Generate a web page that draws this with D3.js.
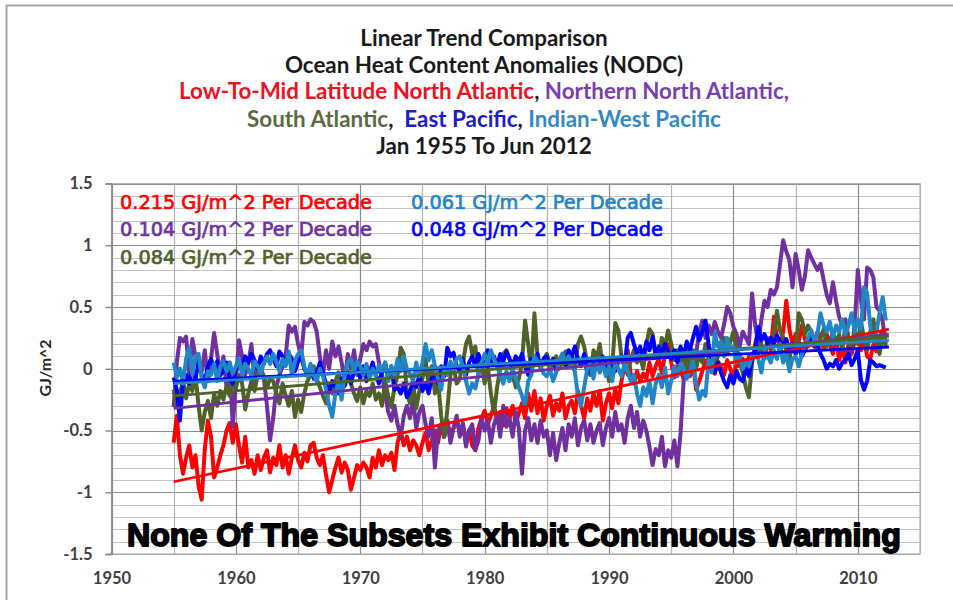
<!DOCTYPE html>
<html>
<head>
<meta charset="utf-8">
<script src="https://cdn.jsdelivr.net/npm/d3@7/dist/d3.min.js"></script>
<style>
  body { margin: 0; background: #ffffff; }
  svg { display: block; }
  text { white-space: pre; }
</style>
</head>
<body>
<svg id="chart" width="953" height="600"></svg>
<script>
// Quarterly ocean heat content anomalies (GJ/m^2), Jan 1955 - Jun 2012
const startYear = 1955;
const quarterStep = 0.25;

const lowMidNorthAtlantic = [
  -0.60,-0.38,-0.70,-0.85, -0.72,-0.62,-0.80,-0.70, -0.95,-1.06,-0.65,-0.42, -0.55,-0.88,-0.80,-0.70,
  -0.62,-0.50,-0.44,-0.60, -0.45,-0.62,-0.76,-0.55, -0.80,-0.74,-0.85,-0.70, -0.82,-0.72,-0.66,-0.84,
  -0.72,-0.78,-0.62,-0.80, -0.70,-0.85,-0.72,-0.62, -0.74,-0.80,-0.68,-0.75, -0.62,-0.60,-0.72,-0.78,
  -0.70,-0.86,-1.00,-0.90, -0.80,-0.72,-0.84,-0.76, -0.82,-0.98,-0.88,-0.78, -0.82,-0.76,-0.80,-0.88,
  -0.72,-0.80,-0.66,-0.78, -0.70,-0.74,-0.68,-0.82, -0.60,-0.50,-0.62,-0.55, -0.66,-0.58,-0.62,-0.70,
  -0.60,-0.52,-0.66,-0.58, -0.50,-0.60,-0.45,-0.55, -0.42,-0.55,-0.48,-0.40, -0.52,-0.45,-0.60,-0.50,
  -0.62,-0.66,-0.48,-0.40, -0.34,-0.45,-0.38,-0.30, -0.42,-0.35,-0.46,-0.32, -0.40,-0.30,-0.44,-0.36,
  -0.28,-0.40,-0.20,-0.34, -0.18,-0.36,-0.24,-0.42, -0.30,-0.22,-0.38,-0.28, -0.34,-0.20,-0.40,-0.30,
  -0.26,-0.36,-0.18,-0.30, -0.40,-0.24,-0.34,-0.20, -0.30,-0.18,-0.42,-0.28, -0.20,-0.32,-0.16,-0.28,
  -0.10, 0.02, 0.15,-0.05, -0.12,-0.02,-0.10,-0.04, -0.08, 0.05,-0.06, 0.02,  0.08,-0.04, 0.12, 0.20,
   0.05,-0.07, 0.02,-0.02, -0.08, 0.00,-0.06, 0.04, -0.17,-0.10,-0.02, 0.06,  0.08, 0.00,-0.04, 0.06,
   0.02,-0.05, 0.07, 0.00, -0.07, 0.04, 0.02, 0.08,  0.00, 0.10, 0.06, 0.20,  0.31, 0.18, 0.10, 0.22,
   0.15, 0.42, 0.25, 0.18,  0.30, 0.55, 0.32, 0.20,  0.28, 0.22, 0.35, 0.24,  0.18, 0.28, 0.20, 0.30,
   0.24, 0.16, 0.28, 0.20,  0.12, 0.25, 0.07, 0.18,  0.05, 0.20, 0.12, 0.22,  0.28, 0.15, 0.24, 0.10,
   0.08, 0.20, 0.14, 0.26,  0.31, 0.28
];

const northernNorthAtlantic = [
  -0.31, 0.05, 0.25, 0.22,  0.26,-0.05, 0.24, 0.10,  0.00,-0.02, 0.15,-0.10,  0.08, 0.29, 0.12,-0.05,
   0.10,-0.15, 0.05,-0.47, -0.10, 0.23, 0.10,-0.05,  0.05, 0.20,-0.10, 0.02, -0.05,-0.08,-0.30,-0.58,
  -0.40,-0.15,-0.05, 0.02,  0.10, 0.35, 0.30, 0.34,  0.20, 0.10, 0.38, 0.35,  0.40, 0.38, 0.30, 0.10,
  -0.05, 0.15, 0.00, 0.22,  0.10, 0.18, 0.05,-0.10,  0.12, 0.00, 0.15,-0.05,  0.08, 0.20, 0.15, 0.22,
   0.18, 0.20, 0.05,-0.05, -0.20,-0.35,-0.42,-0.30, -0.45,-0.55,-0.38,-0.30, -0.40,-0.25,-0.48,-0.35,
  -0.30,-0.45,-0.55,-0.40, -0.80,-0.50,-0.45,-0.55, -0.42,-0.60,-0.48,-0.38, -0.55,-0.44,-0.63,-0.50,
  -0.45,-0.66,-0.58,-0.40, -0.50,-0.42,-0.60,-0.45, -0.38,-0.55,-0.30,-0.47, -0.40,-0.55,-0.35,-0.48,
  -0.85,-0.50,-0.40,-0.58, -0.45,-0.60,-0.42,-0.55, -0.50,-0.70,-0.52,-0.74, -0.60,-0.48,-0.66,-0.45,
  -0.55,-0.40,-0.62,-0.48, -0.42,-0.58,-0.45,-0.60, -0.50,-0.44,-0.62,-0.48, -0.40,-0.55,-0.35,-0.50,
  -0.45,-0.60,-0.40,-0.30, -0.48,-0.35,-0.55,-0.42, -0.50,-0.63,-0.78,-0.65, -0.70,-0.55,-0.79,-0.66,
  -0.72,-0.58,-0.79,-0.52, -0.09, 0.10, 0.17, 0.07,  0.12, 0.30, 0.39, 0.25,  0.35, 0.28, 0.38, 0.30,
   0.25, 0.36, 0.50, 0.45,  0.34, 0.28, 0.18, 0.30,  0.25, 0.20, 0.61, 0.35,  0.20, 0.40, 0.55, 0.50,
   0.64, 0.60, 0.66, 0.85,  1.04, 0.95, 0.88, 0.66,  0.93, 0.80, 0.64, 0.75,  0.96, 0.90, 0.85, 0.80,
   0.85, 0.72, 0.60, 0.53,  0.70, 0.55, 0.42, 0.35,  0.40, 0.25, 0.13, 0.35,  0.80, 0.56, 0.40, 0.82,
   0.80, 0.74, 0.50, 0.47,  0.38, 0.20
];

const southAtlantic = [
  -0.17,-0.31,-0.20,-0.10, -0.24,-0.12,-0.18,-0.05, -0.30,-0.50,-0.35,-0.26, -0.40,-0.20,-0.30,-0.18,
  -0.25,-0.14,-0.22,-0.10, -0.16,-0.05,-0.12,-0.33, -0.20,-0.10,-0.18,-0.05,  0.00,-0.06,-0.15,-0.08,
  -0.10,-0.20,-0.28,-0.12, -0.22,-0.30,-0.18,-0.39, -0.25,-0.35,-0.20,-0.10, -0.05, 0.02,-0.08,-0.15,
  -0.22,-0.28,-0.15,-0.20, -0.10,-0.03,-0.12,-0.08, -0.02,-0.12,-0.20,-0.26, -0.15,-0.28,-0.18,-0.22,
  -0.12,-0.25,-0.20,-0.30, -0.10,-0.22,-0.31,-0.15, -0.05, 0.17, 0.12,-0.20, -0.28,-0.12,-0.32,-0.18,
  -0.08, 0.08,-0.15, 0.02, -0.20,-0.10,-0.38,-0.55, -0.33,-0.05, 0.02,-0.12, -0.08, 0.05, 0.20, 0.26,
   0.12, 0.18,-0.05, 0.05, -0.12, 0.02,-0.20,-0.36, -0.15, 0.00, 0.12, 0.15,  0.08,-0.05,-0.15,-0.08,
   0.05, 0.39, 0.20,-0.02,  0.45, 0.10, 0.02, 0.08,  0.12,-0.02, 0.05, 0.10,  0.00, 0.06, 0.14, 0.02,
   0.10, 0.00, 0.20, 0.26,  0.18, 0.05,-0.05, 0.15,  0.08, 0.20, 0.00, 0.05, -0.10, 0.02, 0.37, 0.31,
   0.10, 0.02,-0.05, 0.08,  0.15, 0.05, 0.10, 0.00,  0.20, 0.32, 0.28, 0.12,  0.10, 0.25, 0.18, 0.31,
   0.20, 0.07, 0.15, 0.05,  0.10,-0.02, 0.08, 0.15,  0.00, 0.12, 0.05, 0.20,  0.08, 0.15, 0.02, 0.10,
   0.18, 0.25, 0.12, 0.22,  0.30, 0.15, 0.08,-0.03, -0.15,-0.23, 0.05, 0.15,  0.12, 0.20, 0.08, 0.25,
   0.18, 0.28, 0.47, 0.31,  0.25, 0.15, 0.08, 0.20,  0.12, 0.45, 0.40, 0.28,  0.35, 0.30, 0.20, 0.15,
   0.25, 0.32, 0.18, 0.22,  0.30, 0.20, 0.28, 0.15,  0.35, 0.25, 0.18, 0.30,  0.20, 0.38, 0.25, 0.15,
   0.30, 0.40, 0.22, 0.12,  0.28, 0.18
];

const eastPacific = [
  -0.07,-0.17,-0.42,-0.10, -0.05,-0.12, 0.00,-0.08,  0.05,-0.05,-0.10, 0.02,  0.08, 0.00, 0.06,-0.05,
  -0.02, 0.05,-0.08,-0.12,  0.00, 0.08, 0.02, 0.10,  0.05, 0.12, 0.07, 0.00,  0.10, 0.04, 0.12, 0.15,
   0.08, 0.02, 0.14, 0.10,  0.05, 0.12, 0.08,-0.02,  0.06, 0.10, 0.00,-0.05,  0.02,-0.08,-0.03, 0.05,
  -0.04,-0.12,-0.18,-0.10, -0.15,-0.20,-0.08,-0.14, -0.05,-0.12,-0.02, 0.04, -0.08, 0.02,-0.10,-0.03,
   0.05,-0.05,-0.12,-0.02,  0.05,-0.08, 0.02,-0.17, -0.15,-0.20,-0.12,-0.23, -0.18,-0.10,-0.15,-0.05,
  -0.18,-0.12,-0.20,-0.08, -0.05,-0.12, 0.02,-0.06,  0.17, 0.10, 0.13, 0.02, -0.02, 0.08,-0.05, 0.05,
   0.10, 0.02, 0.12, 0.04,  0.08, 0.15, 0.05, 0.10,  0.02, 0.12, 0.06, 0.14,  0.08, 0.03, 0.10, 0.05,
   0.12, 0.02,-0.05, 0.08,  0.06, 0.12, 0.00, 0.08,  0.10, 0.04, 0.08,-0.02,  0.05, 0.12, 0.02, 0.15,
   0.10, 0.18, 0.08, 0.02,  0.12,-0.04, 0.05, 0.00,  0.08,-0.02, 0.10, 0.04,  0.00, 0.08,-0.02, 0.06,
   0.10, 0.02, 0.25, 0.29,  0.20, 0.12, 0.18, 0.08,  0.22, 0.15, 0.26, 0.10,  0.18, 0.12, 0.20, 0.14,
   0.08, 0.15, 0.05, 0.18,  0.10, 0.22, 0.15, 0.25,  0.34, 0.23, 0.30, 0.39,  0.20, 0.07,-0.03, 0.05,
  -0.03,-0.10,-0.15,-0.05, -0.12,-0.02,-0.08,-0.10,  0.00,-0.06, 0.08, 0.15,  0.34, 0.23, 0.28, 0.20,
   0.25, 0.20, 0.27, 0.22,  0.18, 0.24, 0.15, 0.20,  0.12, 0.18, 0.10, 0.15,  0.22, 0.25, 0.18, 0.20,
   0.12, 0.07, 0.00, 0.04,  0.02, 0.07, 0.00, 0.05,  0.07, 0.12, 0.03, 0.08,  0.15,-0.09,-0.17,-0.10,
   0.07, 0.05, 0.02, 0.03,  0.02, 0.01
];

const indianWestPacific = [
   0.05,-0.07, 0.00,-0.12,  0.08, 0.17,-0.05, 0.10,  0.12,-0.08,-0.15,-0.02, -0.05, 0.04,-0.10, 0.02,
   0.06,-0.02, 0.05,-0.04,  0.02, 0.08,-0.05, 0.04,  0.00,-0.06, 0.06, 0.02, -0.04, 0.05, 0.10, 0.04,
   0.12, 0.06,-0.02, 0.08,  0.02, 0.14,-0.05, 0.06,  0.12, 0.15, 0.02,-0.06,  0.04,-0.05,-0.10, 0.00,
  -0.06,-0.17,-0.30,-0.39, -0.20,-0.10,-0.25,-0.05,  0.05, 0.08,-0.02, 0.06,  0.02,-0.05, 0.04,-0.08,
   0.00,-0.06, 0.03,-0.02,  0.05,-0.10, 0.02,-0.06,  0.08,-0.02, 0.10, 0.00, -0.04,-0.10, 0.05,-0.06,
   0.05, 0.20, 0.07, 0.15,  0.02,-0.08,-0.17, 0.00, -0.05, 0.06,-0.02, 0.08,  0.10, 0.02,-0.10,-0.20,
  -0.12,-0.16,-0.05, 0.05,  0.12, 0.05, 0.15, 0.08,  0.02,-0.05,-0.12,-0.02, -0.10, 0.00,-0.08,-0.15,
  -0.22,-0.30,-0.10,-0.05,  0.10, 0.06, 0.02,-0.04, -0.06, 0.00,-0.10,-0.03,  0.06, 0.12, 0.05, 0.10,
   0.02,-0.02,-0.22,-0.30, -0.15, 0.00, 0.05,-0.08,  0.06,-0.03, 0.04,-0.06,  0.02,-0.10, 0.05, 0.00,
  -0.06, 0.04,-0.02,-0.10, -0.05,-0.20,-0.30,-0.15, -0.22,-0.10,-0.28,-0.12, -0.05,-0.15, 0.01,-0.20,
  -0.10, 0.02,-0.06, 0.04,  0.00,-0.08,-0.02, 0.06, -0.12,-0.25,-0.18,-0.22,  0.07,-0.03, 0.29, 0.18,
   0.22, 0.10, 0.25, 0.15,  0.18, 0.05, 0.12, 0.00,  0.05, 0.02, 0.10, 0.12,  0.08,-0.03, 0.15, 0.10,
   0.05, 0.15, 0.08, 0.20,  0.05, 0.12,-0.02, 0.08,  0.10, 0.02, 0.12, 0.18,  0.25, 0.31, 0.23, 0.28,
   0.45, 0.35, 0.30, 0.38,  0.25, 0.35, 0.30, 0.40,  0.28, 0.35, 0.45, 0.30,  0.40, 0.32, 0.66, 0.61,
   0.35, 0.22, 0.30, 0.45,  0.58, 0.39
];

// Series in drawing order, with linear trends (GJ/m^2 per decade) and trend value at Jan 1955
const seriesNames = ["Low-To-Mid Latitude North Atlantic", "Northern North Atlantic", "South Atlantic", "East Pacific", "Indian-West Pacific"];
const seriesValues = [lowMidNorthAtlantic, northernNorthAtlantic, southAtlantic, eastPacific, indianWestPacific];
const trendPerDecade = [0.215, 0.104, 0.084, 0.048, 0.061];
const trendAt1955 = [-0.915, -0.32, -0.22, -0.10, -0.12];
const trendEndYear = 2012.5;

const xTickValues = [1950, 1960, 1970, 1980, 1990, 2000, 2010];
const yTickValues = [-1.5, -1, -0.5, 0, 0.5, 1, 1.5];

const seriesColors = ["#ff0000", "#7030a0", "#4f6228", "#0000ff", "#1f86c8"];

seriesValues.forEach((s, i) => { if (s.length !== 230) console.error(seriesNames[i] + " has " + s.length + " values"); });

const svg = d3.select("#chart");
const plot = { left: 111.5, right: 920, top: 183.5, bottom: 554 };

const x = d3.scaleLinear().domain([1950, 2015]).range([plot.left, plot.right]);
const y = d3.scaleLinear().domain([-1.5, 1.5]).range([plot.bottom, plot.top]);

// page frame (top and left edges)
svg.append("path")
  .attr("d", "M6.5,600 V5.5 H953")
  .attr("fill", "none").attr("stroke", "#a6a6a6").attr("stroke-width", 2);

// gridlines: every 0.1 GJ/m^2 and every 5 years
const hMinor = d3.range(-15, 16).map(k => k / 10);
const vMinor = d3.range(1950, 2016, 5);
const grid = svg.append("g");
grid.selectAll("line.h").data(hMinor).join("line")
  .attr("x1", plot.left).attr("x2", plot.right)
  .attr("y1", d => Math.round(y(d)) + 0.5).attr("y2", d => Math.round(y(d)) + 0.5)
  .attr("stroke", d => Math.abs(Math.round(d * 10) % 5) === 0 ? "#8c8c8c" : "#c4c4c4")
  .attr("stroke-width", 1.2);
grid.selectAll("line.v").data(vMinor).join("line")
  .attr("y1", plot.top).attr("y2", plot.bottom)
  .attr("x1", d => Math.round(x(d)) + 0.5).attr("x2", d => Math.round(x(d)) + 0.5)
  .attr("stroke", d => d % 10 === 0 ? "#8c8c8c" : "#b4b4b4")
  .attr("stroke-width", 1.2);
svg.append("rect")
  .attr("x", plot.left).attr("y", plot.top)
  .attr("width", plot.right - plot.left).attr("height", plot.bottom - plot.top)
  .attr("fill", "none").attr("stroke", "#b4b4b4").attr("stroke-width", 1.2);

const axisFont = "Lato, 'Open Sans', sans-serif";

// y axis
const yAxis = d3.axisLeft(y).tickValues(yTickValues).tickSize(6).tickPadding(13)
  .tickFormat(d => String(d));
const gy = svg.append("g").attr("transform", `translate(${plot.left},0)`).call(yAxis);
gy.select(".domain").attr("stroke", "#868686").attr("stroke-width", 1.4);
gy.selectAll(".tick line").attr("stroke", "#868686").attr("stroke-width", 1.4);
gy.selectAll(".tick text")
  .attr("font-family", axisFont).attr("font-weight", "bold")
  .attr("font-size", 16.5).attr("fill", "#404040");

// x axis labels
const xAxis = d3.axisBottom(x).tickValues(xTickValues).tickSize(0).tickPadding(18)
  .tickFormat(d3.format("d"));
const gx = svg.append("g").attr("transform", `translate(0,${plot.bottom})`).call(xAxis);
gx.select(".domain").remove();
gx.selectAll(".tick text")
  .attr("font-family", axisFont).attr("font-weight", "bold")
  .attr("font-size", 16.5).attr("fill", "#404040");

// y axis title
svg.append("text")
  .attr("transform", "translate(44,368) rotate(-90)")
  .attr("text-anchor", "middle").attr("dominant-baseline", "central")
  .attr("font-family", axisFont).attr("font-weight", "bold")
  .attr("font-size", 16).attr("fill", "#262626")
  .text("GJ/m^2");

// data series
const quarterYear = i => startYear + i * quarterStep;
const line = d3.line().x((d, i) => x(quarterYear(i))).y(d => y(d));
svg.append("g").selectAll("path").data(seriesValues).join("path")
  .attr("d", line)
  .attr("fill", "none")
  .attr("stroke", (d, i) => seriesColors[i])
  .attr("stroke-width", 4)
  .attr("stroke-linejoin", "round");

// linear trends
svg.append("g").selectAll("line").data(trendPerDecade).join("line")
  .attr("x1", x(startYear)).attr("y1", (d, i) => y(trendAt1955[i]))
  .attr("x2", x(trendEndYear))
  .attr("y2", (d, i) => y(trendAt1955[i] + d * (trendEndYear - startYear) / 10))
  .attr("stroke", (d, i) => seriesColors[i])
  .attr("stroke-width", 2.8);

// scale a text's font so that it spans the given width
function fitText(sel, width) {
  const w = sel.node().getComputedTextLength();
  const fs = parseFloat(sel.attr("font-size"));
  sel.attr("font-size", (fs * width / w).toFixed(2));
  return sel;
}

// trend annotations
const annotations = [
  { s: 0, x: 120, y: 202 },
  { s: 1, x: 120, y: 229 },
  { s: 2, x: 120, y: 257 },
  { s: 4, x: 411, y: 202 },
  { s: 3, x: 411, y: 229 }
];
annotations.forEach(a => {
  const t = svg.append("text")
    .attr("x", a.x).attr("y", a.y)
    .attr("dominant-baseline", "central")
    .attr("font-family", "'DejaVu Sans', Verdana, sans-serif")
    .attr("font-size", 16)
    .attr("fill", seriesColors[a.s])
    .attr("stroke", seriesColors[a.s]).attr("stroke-width", 0.7)
    .text(trendPerDecade[a.s].toFixed(3) + " GJ/m^2 Per Decade");
  fitText(t, 252);
});

// bottom statement
const stmt = svg.append("text")
  .attr("x", 127).attr("y", 546)
  .attr("font-family", "'Liberation Sans', Arial, sans-serif").attr("font-weight", "bold")
  .attr("font-size", 28).attr("fill", "#000").attr("stroke", "#000").attr("stroke-width", 1.8)
  .attr("stroke-linejoin", "round")
  .text("None Of The Subsets Exhibit Continuous Warming");
fitText(stmt, 774);

// title block: one font size for all lines, set by the widest line
const titleFont = "Lato, 'Open Sans', sans-serif";
const titleLines = [
  { y: 37, parts: [["Linear Trend Comparison", "#1a1a1a"]] },
  { y: 64, parts: [["Ocean Heat Content Anomalies (NODC)", "#1a1a1a"]] },
  { y: 90, parts: [[seriesNames[0], "#f01020"], [", ", "#1a1a1a"], [seriesNames[1] + ",", "#7a3fae"]] },
  { y: 118, parts: [[seriesNames[2], "#5c6a44"], [",  ", "#1a1a1a"], [seriesNames[3], "#1c1ccc"],
                    [", ", "#1a1a1a"], [seriesNames[4], "#3389c2"]] },
  { y: 145, parts: [["Jan 1955 To Jun 2012", "#1a1a1a"]] }
];
const titleNodes = titleLines.map(l => {
  const t = svg.append("text")
    .attr("x", 484).attr("y", l.y)
    .attr("text-anchor", "middle").attr("dominant-baseline", "central")
    .attr("font-family", titleFont).attr("font-weight", "bold")
    .attr("font-size", 16);
  l.parts.forEach(p => t.append("tspan").attr("fill", p[1]).text(p[0]));
  return t;
});
const widest = titleNodes[2].node().getComputedTextLength();
const titleSize = (16 * 610 / widest).toFixed(2);
titleNodes.forEach(t => t.attr("font-size", titleSize));
</script>
</body>
</html>
